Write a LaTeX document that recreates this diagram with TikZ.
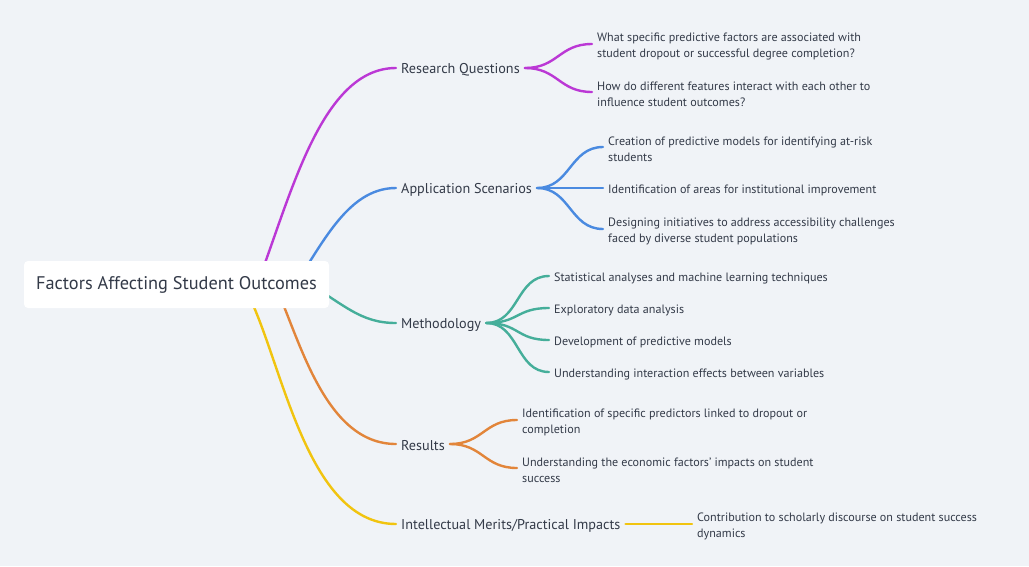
\documentclass[tikz,border=0pt]{standalone}
\usepackage{fontspec}
\setmainfont{PT Sans}
\definecolor{bg}{HTML}{F0F3F7}
\definecolor{cpur}{HTML}{BB38D5}
\definecolor{cblu}{HTML}{4A8AE0}
\definecolor{ctea}{HTML}{45AE9A}
\definecolor{cora}{HTML}{E2853A}
\definecolor{cyel}{HTML}{F1C40F}
\definecolor{txt}{HTML}{333A48}
\tikzset{
  rootbox/.style={fill=white, rounded corners=4pt, minimum width=305pt, minimum height=47pt, inner sep=0pt, text=txt, font=\fontsize{18.3}{20}\selectfont},
  mainlbl/.style={anchor=west, inner xsep=5pt, inner ysep=2pt, text=txt, font=\fontsize{14.2}{16}\selectfont},
  leaf/.style={anchor=west, inner xsep=5pt, inner ysep=1pt, text=txt, align=left, font=\fontsize{12.1}{16.5}\selectfont},
  br/.style={line width=2.4pt, line cap=round},
}
\begin{document}
\begin{tikzpicture}[x=1pt,y=-1pt]
\useasboundingbox (0,0) rectangle (1029,566);
\fill[bg] (0,0) rectangle (1029,566);

% hidden start points
\coordinate (sP) at (255,290);
\coordinate (sB) at (285,300);
\coordinate (sT) at (300,278);
\coordinate (sO) at (275,285);
\coordinate (sY) at (240,280);

% main labels (text lowered 2pt, connectors use yshift=2pt)
\node[mainlbl] (rq) at (396,70) {Research Questions};
\node[mainlbl] (as) at (396,190) {Application Scenarios};
\node[mainlbl] (me) at (396,325) {Methodology};
\node[mainlbl] (re) at (396,446) {Results};
\node[mainlbl] (im) at (396,526) {Intellectual Merits/Practical Impacts};

% main branches
\draw[br,cpur] (sP) .. controls (290,200) and (320,68) .. ([yshift=2pt]rq.west);
\draw[br,cblu] (sB) .. controls (320,250) and (345,188) .. ([yshift=2pt]as.west);
\draw[br,ctea] (sT) .. controls (345,305) and (360,323) .. ([yshift=2pt]me.west);
\draw[br,cora] (sO) .. controls (300,340) and (325,444) .. ([yshift=2pt]re.west);
\draw[br,cyel] (sY) .. controls (280,340) and (300,524) .. ([yshift=2pt]im.west);

% root
\node[rootbox] (root) at (176.5,284.5) {\raisebox{-1.5pt}{Factors Affecting Student Outcomes}};

% leaves (text lowered 2.5pt)
\node[leaf] (rq1) at (592,46.5) {What specific predictive factors are associated with\\student dropout or successful degree completion?};
\node[leaf] (rq2) at (592,94.5) {How do different features interact with each other to\\influence student outcomes?};

\node[leaf] (as1) at (603,149.5) {Creation of predictive models for identifying at-risk\\students};
\node[leaf] (as2) at (603,190.5) {Identification of areas for institutional improvement};
\node[leaf] (as3) at (603,231.5) {Designing initiatives to address accessibility challenges\\faced by diverse student populations};

\node[leaf] (me1) at (549,278.5) {Statistical analyses and machine learning techniques};
\node[leaf] (me2) at (549,310.5) {Exploratory data analysis};
\node[leaf] (me3) at (549,342.5) {Development of predictive models};
\node[leaf] (me4) at (549,374.5) {Understanding interaction effects between variables};

\node[leaf] (re1) at (517,422.5) {Identification of specific predictors linked to dropout or\\completion};
\node[leaf] (re2) at (517,470.5) {Understanding the economic factors' impacts on student\\success};

\node[leaf] (im1) at (692,526.5) {Contribution to scholarly discourse on student success\\dynamics};

% sub branches
\foreach \c in {rq1,rq2}{\draw[br,cpur] ([yshift=2pt]rq.east) .. controls +(33,0) and +(-33,0) .. ([yshift=2.5pt]\c.west);}
\foreach \c in {as1,as2,as3}{\draw[br,cblu] ([yshift=2pt]as.east) .. controls +(33,0) and +(-33,0) .. ([yshift=2.5pt]\c.west);}
\foreach \c in {me1,me2,me3,me4}{\draw[br,ctea] ([yshift=2pt]me.east) .. controls +(33,0) and +(-33,0) .. ([yshift=2.5pt]\c.west);}
\foreach \c in {re1,re2}{\draw[br,cora] ([yshift=2pt]re.east) .. controls +(33,0) and +(-33,0) .. ([yshift=2.5pt]\c.west);}
\draw[br,cyel] ([yshift=2pt]im.east) -- ([yshift=2.5pt]im1.west);
\end{tikzpicture}
\end{document}
